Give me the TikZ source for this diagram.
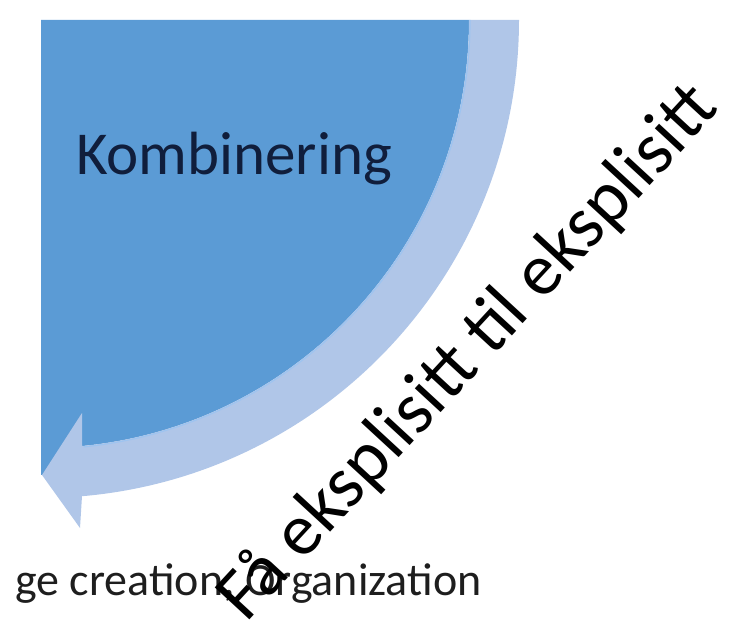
\documentclass[tikz,border=0pt]{standalone}
\usepackage{fontspec}
\setmainfont{Carlito}
\definecolor{qdark}{RGB}{91,155,213}
\definecolor{qlight}{RGB}{176,198,232}
\definecolor{qhl}{RGB}{158,196,240}
\definecolor{qnavy}{RGB}{16,30,60}
\definecolor{qgray}{RGB}{30,30,30}
\begin{document}
\begin{tikzpicture}[x=1pt,y=1pt,
  darkq/.style={fill=qdark,draw=none},
  bandq/.style={fill=qlight,draw=none},
  edgehl/.style={draw=qhl,line width=1.2pt},
  kombi/.style={inner sep=0pt,text=qnavy,font={\fontsize{61}{61}\selectfont}},
  bottomtxt/.style={inner sep=0pt,text=qgray,font={\fontsize{46}{46}\selectfont}},
  rottxt/.style={inner sep=0pt,text=black,font={\fontsize{73.5}{73.5}\selectfont}}]
\useasboundingbox (0,0) rectangle (735,624);
\coordinate (C) at (41,604);
% dark quarter disc
\fill[darkq] (C) -- ++(428,0) arc[start angle=0,end angle=-90,radius=428] -- cycle;
\fill[darkq] (41,149) rectangle (80,200);
% light curved arrow
\fill[bandq] (519,604) arc[start angle=0,end angle=-85.08,radius=478]
  -- (80,96) -- (42,149) -- (82,211) -- (82,178)
  arc[start angle=-84.5,end angle=0,radius=428] -- cycle;
\draw[edgehl] ([shift={(-84.3:429)}]C) arc[start angle=-84.3,end angle=0,radius=429];
% texts
\node[kombi,anchor=base] (komb) at (234,449) {Kombinering};
\node[bottomtxt,anchor=base west] (org) at (15,29) {ge creation, Organization};
\node[rottxt,anchor=base west,rotate=47.3] (rot) at (246,0) {Få eksplisitt til eksplisitt};
\end{tikzpicture}
\end{document}
